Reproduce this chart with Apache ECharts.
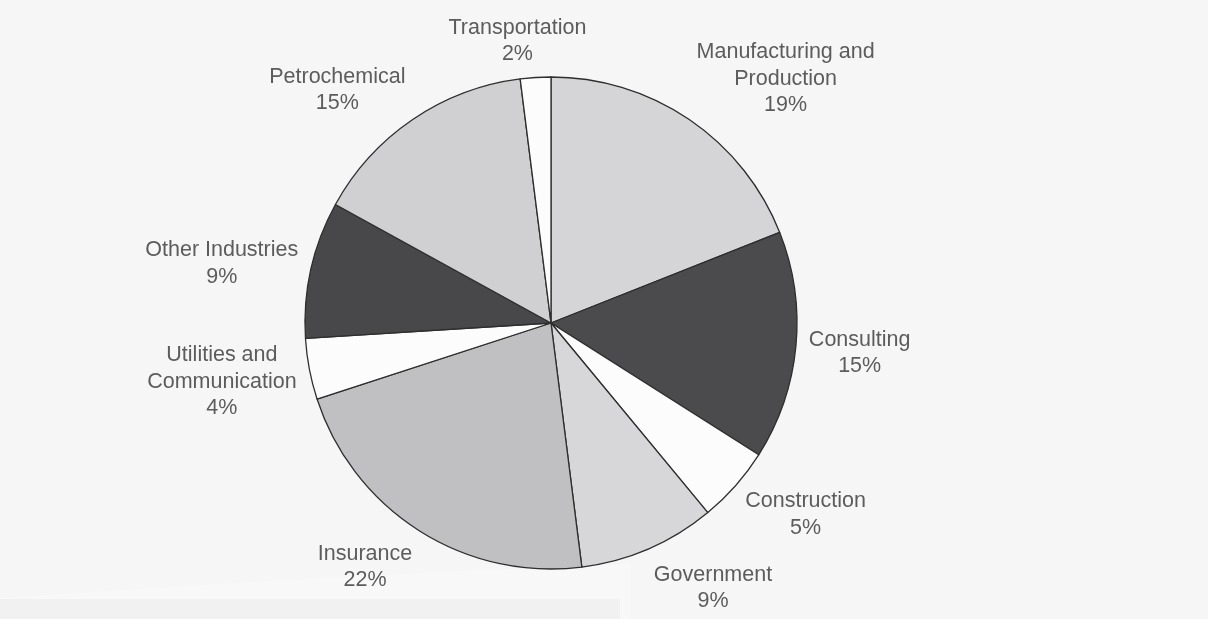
<!DOCTYPE html>
<html>
<head>
<meta charset="utf-8">
<script src="https://cdn.jsdelivr.net/npm/echarts@6/dist/echarts.min.js"></script>
<style>
html,body{margin:0;padding:0;background:#f6f6f6;}
#main{width:1208px;height:619px;}
</style>
</head>
<body>
<div id="main"></div>
<script>
// ---- data ----
const categories = ['Manufacturing and\nProduction', 'Consulting', 'Construction', 'Government', 'Insurance', 'Utilities and\nCommunication', 'Other Industries', 'Petrochemical', 'Transportation'];
const values = [19, 15, 5, 9, 22, 4, 9, 15, 2];
const sliceColors = ['#d5d4d6', '#4b4b4d', '#fcfcfc', '#d7d6d8', '#c0c0c2', '#fcfcfc', '#48484a', '#d0cfd1', '#fcfcfc'];

// ---- layout ----
const CX = 551, CY = 323, R = 246;
const total = values.reduce((a, b) => a + b, 0);

const chart = echarts.init(document.getElementById('main'), null, {renderer: 'canvas'});
chart.setOption({
  backgroundColor: '#f6f6f6',
  animation: false,
  graphic: [
    {type: 'polygon', z: -10, shape: {points: [[0, 598], [250, 582], [480, 570], [630, 564], [630, 619], [0, 619]]}, style: {fill: '#f8f8f8'}},
    {type: 'rect', z: -9, shape: {x: 0, y: 599, width: 620, height: 20}, style: {fill: '#f2f1f1'}}
  ],
  series: [{
    type: 'pie',
    center: [CX, CY],
    radius: R,
    startAngle: 90,
    clockwise: true,
    avoidLabelOverlap: false,
    silent: true,
    emphasis: {disabled: true},
    data: categories.map((c, i) => ({name: c, value: values[i], itemStyle: {color: sliceColors[i]}})),
    itemStyle: {borderColor: '#2e2e2e', borderWidth: 1.3},
    label: {
      show: true,
      position: 'outside',
      formatter: '{b}\n{c}%',
      color: '#5c5c5c',
      fontFamily: 'Liberation Sans, Arial, sans-serif',
      fontSize: 21.5,
      lineHeight: 26.5,
      align: 'center'
    },
    labelLine: {show: false},
    labelLayout: function (params) {
      const i = params.dataIndex;
      let before = 0;
      for (let k = 0; k < i; k++) before += values[k];
      const mid = (before + values[i] / 2) / total * Math.PI * 2;
      const ux = Math.sin(mid), uy = -Math.cos(mid);
      const w = params.labelRect.width, h = params.labelRect.height;
      const d = R + 13;
      const px = CX + d * ux, py = CY + d * uy;
      const sx = Math.max(-1, Math.min(1, ux * 4));
      return {x: px + sx * w / 2, y: py + uy * h / 2 + 3, align: 'center', verticalAlign: 'middle'};
    }
  }]
});
</script>
</body>
</html>
